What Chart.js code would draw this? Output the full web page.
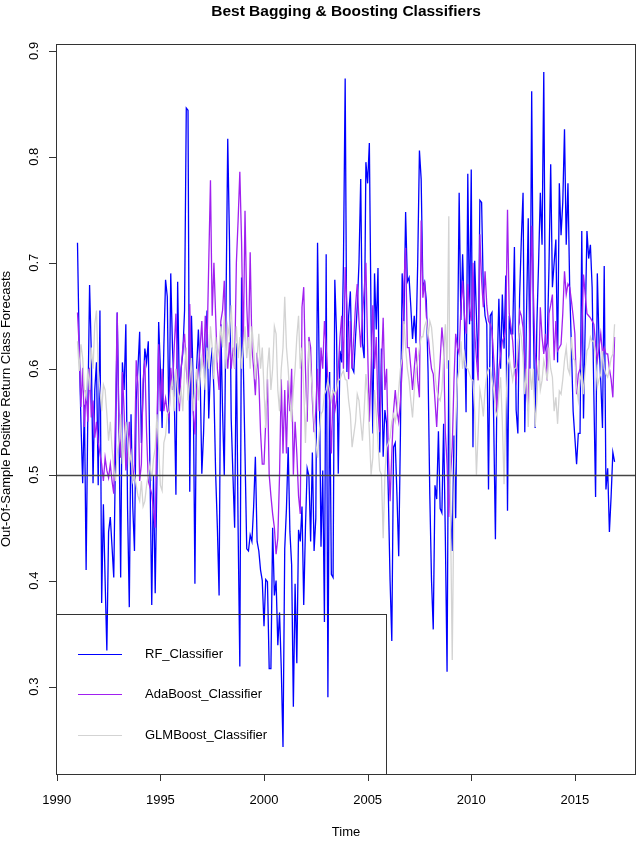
<!DOCTYPE html>
<html>
<head>
<meta charset="utf-8">
<title>Best Bagging & Boosting Classifiers</title>
<script src="https://cdn.jsdelivr.net/npm/chart.js@4.4.1/dist/chart.umd.min.js"></script>
<style>
  html, body { margin: 0; padding: 0; background: #fff; }
  #wrap { width: 638px; height: 842px; }
</style>
</head>
<body>
<div id="wrap"><canvas id="chart" width="638" height="842"></canvas></div>
<script>
// monthly series, Jan 1991 .. Dec 2016
const startYear = 1991;
const perYear = 12;

const rfValues = [
  0.719, 0.62, 0.55, 0.492, 0.566, 0.41, 0.56, 0.679, 0.615, 0.492, 0.58, 0.606,
  0.49, 0.655, 0.379, 0.472, 0.40, 0.334, 0.446, 0.46, 0.432, 0.403, 0.52, 0.653,
  0.55, 0.403, 0.606, 0.58, 0.642, 0.468, 0.375, 0.557, 0.47, 0.428, 0.57, 0.60,
  0.635, 0.53, 0.58, 0.619, 0.606, 0.626, 0.50, 0.377, 0.499, 0.388, 0.499, 0.644,
  0.60, 0.544, 0.62, 0.684, 0.668, 0.539, 0.69, 0.62, 0.579, 0.481, 0.682, 0.575,
  0.60, 0.615, 0.655, 0.846, 0.844, 0.484, 0.65, 0.588, 0.397, 0.601, 0.637, 0.597,
  0.501, 0.539, 0.60, 0.655, 0.553, 0.601, 0.62, 0.579, 0.501, 0.45, 0.386, 0.642,
  0.56, 0.499, 0.66, 0.817, 0.722, 0.553, 0.50, 0.45, 0.624, 0.45, 0.319, 0.686,
  0.606, 0.52, 0.43, 0.428, 0.443, 0.437, 0.47, 0.517, 0.437, 0.428, 0.41, 0.40,
  0.357, 0.401, 0.399, 0.317, 0.317, 0.45, 0.386, 0.40, 0.339, 0.37, 0.317, 0.243,
  0.43, 0.468, 0.526, 0.446, 0.415, 0.281, 0.397, 0.322, 0.448, 0.437, 0.47, 0.377,
  0.45, 0.506, 0.499, 0.437, 0.521, 0.428, 0.459, 0.719, 0.597, 0.432, 0.504, 0.361,
  0.708, 0.29, 0.597, 0.406, 0.403, 0.684, 0.633, 0.501, 0.617, 0.606, 0.70, 0.874,
  0.597, 0.65, 0.673, 0.601, 0.597, 0.63, 0.659, 0.70, 0.779, 0.624, 0.61, 0.795,
  0.775, 0.813, 0.646, 0.539, 0.69, 0.637, 0.695, 0.521, 0.619, 0.517, 0.561, 0.548,
  0.481, 0.40, 0.343, 0.526, 0.53, 0.48, 0.423, 0.539, 0.69, 0.642, 0.748, 0.682,
  0.686, 0.659, 0.628, 0.65, 0.624, 0.70, 0.806, 0.779, 0.677, 0.682, 0.664, 0.597,
  0.481, 0.40, 0.354, 0.49, 0.477, 0.541, 0.468, 0.464, 0.548, 0.441, 0.314, 0.608,
  0.464, 0.428, 0.537, 0.459, 0.606, 0.766, 0.646, 0.708, 0.65, 0.559, 0.784, 0.642,
  0.788, 0.526, 0.702, 0.65, 0.597, 0.759, 0.757, 0.673, 0.65, 0.642, 0.486, 0.65,
  0.653, 0.55, 0.439, 0.601, 0.666, 0.60, 0.67, 0.619, 0.688, 0.466, 0.65, 0.633,
  0.633, 0.715, 0.561, 0.539, 0.668, 0.722, 0.766, 0.54, 0.65, 0.742, 0.60, 0.862,
  0.642, 0.544, 0.642, 0.70, 0.766, 0.717, 0.88, 0.619, 0.624, 0.695, 0.793, 0.677,
  0.70, 0.722, 0.606, 0.775, 0.726, 0.757, 0.826, 0.717, 0.775, 0.677, 0.62, 0.56,
  0.535, 0.51, 0.539, 0.539, 0.73, 0.553, 0.642, 0.73, 0.704, 0.717, 0.677, 0.575,
  0.479, 0.69, 0.624, 0.588, 0.544, 0.697, 0.486, 0.506, 0.446, 0.48, 0.521, 0.512
];

const adaValues = [
  0.653, 0.62, 0.564, 0.601, 0.545, 0.58, 0.55, 0.601, 0.554, 0.57, 0.535, 0.55,
  0.53, 0.52, 0.51, 0.494, 0.516, 0.504, 0.497, 0.51, 0.494, 0.482, 0.557, 0.653,
  0.54, 0.516, 0.597, 0.56, 0.504, 0.52, 0.55, 0.516, 0.494, 0.51, 0.608, 0.585,
  0.494, 0.51, 0.59, 0.608, 0.54, 0.494, 0.488, 0.482, 0.466, 0.45, 0.55, 0.623,
  0.56, 0.60, 0.56, 0.572, 0.56, 0.554, 0.601, 0.58, 0.62, 0.652, 0.59, 0.56,
  0.60, 0.62, 0.633, 0.60, 0.58, 0.661, 0.59, 0.56, 0.538, 0.58, 0.60, 0.62,
  0.645, 0.60, 0.65, 0.62, 0.70, 0.778, 0.65, 0.70, 0.65, 0.60, 0.58, 0.645,
  0.655, 0.683, 0.62, 0.60, 0.625, 0.60, 0.62, 0.60, 0.70, 0.74, 0.786, 0.72,
  0.62, 0.749, 0.66, 0.62, 0.71, 0.62, 0.60, 0.575, 0.615, 0.59, 0.54, 0.51,
  0.51, 0.55, 0.59, 0.50, 0.48, 0.463, 0.45, 0.425, 0.44, 0.50, 0.59, 0.52,
  0.58, 0.52, 0.589, 0.56, 0.60, 0.50, 0.55, 0.52, 0.48, 0.463, 0.658, 0.677,
  0.60, 0.55, 0.63, 0.62, 0.57, 0.54, 0.56, 0.60, 0.56, 0.62, 0.60, 0.645,
  0.62, 0.59, 0.57, 0.52, 0.58, 0.56, 0.57, 0.60, 0.63, 0.65, 0.60, 0.696,
  0.66, 0.59, 0.645, 0.60, 0.63, 0.66, 0.68, 0.645, 0.62, 0.65, 0.674, 0.70,
  0.62, 0.55, 0.60, 0.66, 0.60, 0.63, 0.56, 0.54, 0.60, 0.648, 0.58, 0.60,
  0.52, 0.475, 0.52, 0.56, 0.58, 0.56, 0.55, 0.57, 0.60, 0.68, 0.714, 0.62,
  0.62, 0.601, 0.58, 0.60, 0.62, 0.589, 0.573, 0.74, 0.667, 0.683, 0.65, 0.633,
  0.614, 0.60, 0.595, 0.57, 0.545, 0.582, 0.608, 0.639, 0.62, 0.54, 0.51, 0.46,
  0.50, 0.526, 0.589, 0.633, 0.62, 0.614, 0.658, 0.683, 0.652, 0.633, 0.68, 0.658,
  0.645, 0.70, 0.633, 0.61, 0.589, 0.727, 0.683, 0.658, 0.692, 0.66, 0.645, 0.642,
  0.636, 0.61, 0.583, 0.557, 0.60, 0.614, 0.626, 0.63, 0.639, 0.75, 0.652, 0.64,
  0.626, 0.60, 0.589, 0.61, 0.655, 0.65, 0.639, 0.61, 0.582, 0.56, 0.65, 0.735,
  0.67, 0.614, 0.60, 0.589, 0.658, 0.63, 0.614, 0.633, 0.589, 0.652, 0.66, 0.67,
  0.608, 0.645, 0.617, 0.62, 0.623, 0.652, 0.692, 0.67, 0.68, 0.677, 0.664, 0.65,
  0.633, 0.576, 0.595, 0.60, 0.633, 0.689, 0.67, 0.652, 0.65, 0.648, 0.645, 0.642,
  0.623, 0.608, 0.62, 0.633, 0.614, 0.62, 0.614, 0.614, 0.60, 0.59, 0.573, 0.63
];

const glmValues = [
  0.626, 0.598, 0.623, 0.61, 0.58, 0.573, 0.60, 0.58, 0.62, 0.60, 0.642, 0.655,
  0.60, 0.58, 0.56, 0.585, 0.58, 0.557, 0.532, 0.55, 0.525, 0.506, 0.494, 0.52,
  0.532, 0.557, 0.51, 0.532, 0.55, 0.535, 0.51, 0.52, 0.494, 0.50, 0.49, 0.48,
  0.475, 0.494, 0.47, 0.475, 0.49, 0.50, 0.51, 0.494, 0.515, 0.525, 0.557, 0.525,
  0.49, 0.485, 0.53, 0.537, 0.557, 0.56, 0.58, 0.59, 0.56, 0.60, 0.58, 0.57,
  0.58, 0.56, 0.60, 0.62, 0.57, 0.59, 0.61, 0.56, 0.58, 0.60, 0.57, 0.59,
  0.61, 0.60, 0.58, 0.62, 0.60, 0.64, 0.62, 0.59, 0.63, 0.61, 0.62, 0.64,
  0.62, 0.65, 0.60, 0.64, 0.63, 0.66, 0.62, 0.60, 0.64, 0.61, 0.63, 0.60,
  0.62, 0.64, 0.61, 0.63, 0.60, 0.64, 0.62, 0.59, 0.61, 0.633, 0.60, 0.62,
  0.58, 0.544, 0.60, 0.62, 0.58, 0.60, 0.64, 0.633, 0.58, 0.56, 0.60, 0.62,
  0.668, 0.62, 0.60, 0.57, 0.55, 0.58, 0.60, 0.63, 0.65, 0.60, 0.62, 0.58,
  0.53, 0.58, 0.626, 0.60, 0.58, 0.55, 0.53, 0.516, 0.54, 0.557, 0.56, 0.576,
  0.58, 0.589, 0.58, 0.57, 0.58, 0.576, 0.58, 0.589, 0.59, 0.595, 0.598, 0.59,
  0.589, 0.57, 0.557, 0.526, 0.538, 0.55, 0.576, 0.57, 0.55, 0.532, 0.56, 0.595,
  0.576, 0.54, 0.50, 0.516, 0.58, 0.557, 0.53, 0.504, 0.50, 0.44, 0.50, 0.526,
  0.53, 0.535, 0.55, 0.557, 0.55, 0.56, 0.58, 0.60, 0.61, 0.645, 0.62, 0.60,
  0.589, 0.57, 0.554, 0.58, 0.60, 0.608, 0.62, 0.63, 0.63, 0.64, 0.645, 0.63,
  0.645, 0.639, 0.62, 0.594, 0.58, 0.573, 0.57, 0.58, 0.61, 0.642, 0.60, 0.744,
  0.46, 0.325, 0.48, 0.55, 0.589, 0.60, 0.626, 0.60, 0.614, 0.601, 0.60, 0.595,
  0.59, 0.589, 0.56, 0.50, 0.54, 0.58, 0.57, 0.555, 0.58, 0.594, 0.60, 0.601,
  0.59, 0.58, 0.56, 0.555, 0.575, 0.592, 0.55, 0.491, 0.56, 0.604, 0.61, 0.60,
  0.589, 0.60, 0.601, 0.62, 0.639, 0.63, 0.61, 0.576, 0.60, 0.545, 0.60, 0.58,
  0.60, 0.545, 0.57, 0.608, 0.58, 0.589, 0.608, 0.60, 0.589, 0.62, 0.60, 0.592,
  0.56, 0.573, 0.548, 0.579, 0.576, 0.59, 0.608, 0.62, 0.60, 0.595, 0.63, 0.61,
  0.608, 0.583, 0.57, 0.589, 0.598, 0.576, 0.60, 0.617, 0.62, 0.63, 0.626, 0.626,
  0.608, 0.583, 0.59, 0.595, 0.617, 0.60, 0.595, 0.592, 0.60, 0.61, 0.614, 0.642
];

const seriesNames = ['RF_Classifier', 'AdaBoost_Classifier', 'GLMBoost_Classifier'];
const seriesColors = ['#0000ff', '#a020f0', '#d3d3d3'];
const xTicks = [1990, 1995, 2000, 2005, 2010, 2015];
const yTicks = [0.3, 0.4, 0.5, 0.6, 0.7, 0.8, 0.9];
const refLine = 0.5;

const FONT = '"Liberation Sans", Arial, sans-serif';

function toPoints(values) {
  return values.map((v, i) => ({ x: startYear + i / perYear, y: v }));
}

// R-like axes, box, reference line, titles and legend
const rStyle = {
  id: 'rStyle',
  afterDatasetsDraw(chart) {
    const { ctx, chartArea: a, scales: { y } } = chart;
    const py = Math.round(y.getPixelForValue(refLine)) + 0.5;
    ctx.save();
    ctx.strokeStyle = '#444';
    ctx.lineWidth = 1.3;
    ctx.beginPath();
    ctx.moveTo(a.left, py);
    ctx.lineTo(a.right, py);
    ctx.stroke();
    ctx.restore();
  },
  afterDraw(chart) {
    const { ctx, chartArea: a, scales: { x, y } } = chart;
    ctx.save();
    ctx.strokeStyle = '#333';
    ctx.lineWidth = 1;
    ctx.strokeRect(a.left + 0.5, a.top + 0.5, a.right - a.left - 1, a.bottom - a.top);

    ctx.fillStyle = '#000';
    ctx.font = '13px ' + FONT;

    // x axis
    ctx.beginPath();
    xTicks.forEach(t => {
      const px = Math.round(x.getPixelForValue(t)) + 0.5;
      ctx.moveTo(px, a.bottom);
      ctx.lineTo(px, a.bottom + 7);
    });
    ctx.stroke();
    ctx.textAlign = 'center';
    ctx.textBaseline = 'middle';
    xTicks.forEach(t => ctx.fillText(String(t), x.getPixelForValue(t), 800));

    // y axis
    ctx.beginPath();
    yTicks.forEach(t => {
      const py = Math.round(y.getPixelForValue(t)) + 0.5;
      ctx.moveTo(a.left, py);
      ctx.lineTo(a.left - 7, py);
    });
    ctx.stroke();
    yTicks.forEach(t => {
      ctx.save();
      ctx.translate(38, y.getPixelForValue(t));
      ctx.rotate(-Math.PI / 2);
      ctx.textAlign = 'center';
      ctx.textBaseline = 'alphabetic';
      ctx.fillText(t.toFixed(1), 0, 0);
      ctx.restore();
    });

    // titles
    ctx.textAlign = 'center';
    ctx.textBaseline = 'middle';
    ctx.fillText('Time', (a.left + a.right) / 2, 832);
    ctx.save();
    ctx.translate(10, (a.top + a.bottom) / 2);
    ctx.rotate(-Math.PI / 2);
    ctx.textBaseline = 'alphabetic';
    ctx.fillText('Out-Of-Sample Positive Return Class Forecasts', 0, 0);
    ctx.restore();
    ctx.font = 'bold 15.5px ' + FONT;
    ctx.fillText('Best Bagging & Boosting Classifiers', (a.left + a.right) / 2, 12);

    // legend (bottom left)
    ctx.strokeStyle = '#333';
    ctx.strokeRect(a.left + 0.5, 614.5, 330, a.bottom - 614);
    ctx.font = '13px ' + FONT;
    ctx.textAlign = 'left';
    ctx.textBaseline = 'middle';
    const rows = [654, 694, 735];
    chart.data.datasets.slice().sort((p, q) => p.legendIndex - q.legendIndex).forEach((ds, k) => {
      ctx.strokeStyle = ds.borderColor;
      ctx.lineWidth = 1.2;
      ctx.beginPath();
      ctx.moveTo(78, rows[k] + 0.5);
      ctx.lineTo(122, rows[k] + 0.5);
      ctx.stroke();
      ctx.fillStyle = '#000';
      ctx.fillText(ds.label, 145, rows[k]);
    });
    ctx.restore();
  }
};

const datasets = [rfValues, adaValues, glmValues].map((vals, k) => ({
  label: seriesNames[k],
  data: toPoints(vals),
  borderColor: seriesColors[k],
  borderWidth: 1.3,
  pointRadius: 0,
  tension: 0,
  fill: false,
  order: 2 - k,
  legendIndex: k
}));

new Chart(document.getElementById('chart'), {
  type: 'line',
  data: { datasets },
  options: {
    responsive: false,
    animation: false,
    devicePixelRatio: 1,
    layout: { padding: { left: 56, top: 44, right: 2, bottom: 68 } },
    plugins: { legend: { display: false }, title: { display: false }, tooltip: { enabled: false } },
    scales: {
      x: { type: 'linear', display: false, min: 1989.963, max: 2017.95 },
      y: { type: 'linear', display: false, min: 0.2175, max: 0.9065 }
    }
  },
  plugins: [rStyle]
});
</script>
</body>
</html>
